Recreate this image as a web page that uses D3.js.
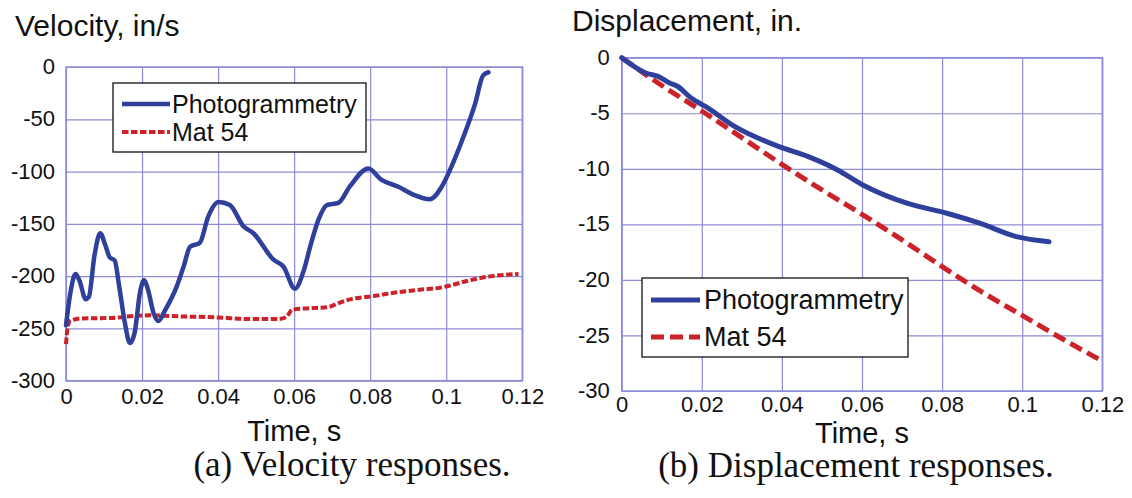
<!DOCTYPE html>
<html><head><meta charset="utf-8">
<script src="https://cdn.jsdelivr.net/npm/d3@7"></script>
<style>body{margin:0;background:#fff}svg{display:block}</style>
</head><body><svg id="c" width="1132" height="498"></svg>
<script>
// ---- data ----
const xTicks = [0, 0.02, 0.04, 0.06, 0.08, 0.1, 0.12];
const xTickLabels = ["0", "0.02", "0.04", "0.06", "0.08", "0.1", "0.12"];
const velTicks = [0, -50, -100, -150, -200, -250, -300];
const dispTicks = [0, -5, -10, -15, -20, -25, -30];
const seriesNames = ["Photogrammetry", "Mat 54"];

const velPhotoT = [0, 0.0012, 0.0025, 0.0035, 0.0052, 0.006, 0.0075, 0.009, 0.0103, 0.0115, 0.0128, 0.014, 0.0155, 0.0168, 0.018, 0.0195, 0.0205, 0.0215, 0.023, 0.0243, 0.026, 0.0291, 0.031, 0.0326, 0.0352, 0.0374, 0.0401, 0.0431, 0.0466, 0.0493, 0.0545, 0.0572, 0.0602, 0.0625, 0.0642, 0.0665, 0.0686, 0.0716, 0.0747, 0.0795, 0.083, 0.0874, 0.0913, 0.0957, 0.0988, 0.1014, 0.1045, 0.1076, 0.1097, 0.1111];
const velPhotoV = [-247, -215, -198, -204, -222, -220, -180, -159, -170, -182, -185, -210, -245, -264, -255, -215, -204, -212, -235, -243, -233, -210, -190, -172, -168, -143, -129, -132, -152, -159, -184, -191, -212, -195, -172, -145, -132, -130, -114, -97, -108, -114.5, -122, -126.5, -114.5, -95, -67, -35, -8, -5];

const velMatT = [0, 0.0004, 0.001, 0.004, 0.012, 0.018, 0.022, 0.03, 0.04, 0.048, 0.056, 0.058, 0.0595, 0.065, 0.069, 0.0715, 0.075, 0.081, 0.087, 0.093, 0.0985, 0.1005, 0.104, 0.108, 0.112, 0.119];
const velMatV = [-265, -250, -243, -240.5, -240, -238, -237.5, -238.5, -239.5, -241, -241, -239, -232, -230.5, -229.5, -226, -222, -219, -215.5, -213, -211, -209.5, -206, -202.5, -200, -198];

const dispPhotoT = [0, 0.0062, 0.0092, 0.0121, 0.0138, 0.0174, 0.021, 0.0283, 0.0393, 0.0466, 0.0539, 0.0602, 0.0712, 0.0812, 0.0894, 0.0985, 0.1067];
const dispPhotoD = [0, -1.4, -1.7, -2.3, -2.55, -3.65, -4.41, -6.21, -8.01, -8.91, -10.11, -11.46, -13.1, -14.0, -14.9, -16.1, -16.56];

const dispMatT = [0, 0.01, 0.02, 0.03, 0.04, 0.05, 0.06, 0.07, 0.08, 0.09, 0.1, 0.11, 0.12];
const dispMatD = [0, -2.5, -4.8, -7.2, -9.6, -11.9, -14.1, -16.4, -18.8, -21.1, -23.2, -25.3, -27.3];

// ---- drawing ----
const SANS = "'Liberation Sans', Arial, Helvetica, sans-serif";
const SERIF = "'Liberation Serif', 'Times New Roman', Times, serif";
const svg = d3.select("#c");
svg.append("rect").attr("width", 1132).attr("height", 498).attr("fill", "#fff");
const BLUE = "#2f3f9c", RED = "#cc2229", GRID = "#8c8cd6";

function panel(o) {
  const x = d3.scaleLinear().domain([0, 0.12]).range([o.x0, o.x1]);
  const y = d3.scaleLinear().domain([-30 * o.k, 0]).range([o.y1, o.y0]);
  const g = svg.append("g");
  const gx = g.append("g").attr("transform", `translate(0,${o.y1})`)
    .call(d3.axisBottom(x).tickValues(xTicks).tickSize(-(o.y1 - o.y0)).tickFormat((d, i) => xTickLabels[i]));
  gx.select(".domain").remove();
  gx.selectAll("line").attr("stroke", GRID).attr("stroke-width", 1.2);
  gx.selectAll("text").attr("font-size", o.tickFs).attr("font-family", SANS).attr("fill", "#111").attr("dy", null).attr("y", o.xLabY);
  const gy = g.append("g").attr("transform", `translate(${o.x0},0)`)
    .call(d3.axisLeft(y).tickValues(o.yTicks).tickSize(-(o.x1 - o.x0)).tickFormat(d => String(d)));
  gy.select(".domain").remove();
  gy.selectAll("line").attr("stroke", GRID).attr("stroke-width", 1.2);
  gy.selectAll("text").attr("font-size", o.tickFs).attr("font-family", SANS).attr("fill", "#111").attr("x", -o.yLabGap).attr("dy", "0.3em");
  g.append("rect").attr("x", o.x0).attr("y", o.y0).attr("width", o.x1 - o.x0).attr("height", o.y1 - o.y0)
    .attr("fill", "none").attr("stroke", GRID).attr("stroke-width", 1.5);
  const line = d3.line().x(d => x(d[0])).y(d => y(d[1])).curve(d3.curveMonotoneX);
  g.append("path").datum(o.matT.map((t, i) => [t, o.matV[i]])).attr("d", line)
    .attr("fill", "none").attr("stroke", RED).attr("stroke-width", o.redW).attr("stroke-dasharray", o.dash);
  g.append("path").datum(o.photoT.map((t, i) => [t, o.photoV[i]])).attr("d", line)
    .attr("fill", "none").attr("stroke", BLUE).attr("stroke-width", o.blueW).attr("stroke-linejoin", "round").attr("stroke-linecap", "round");
  svg.append("text").attr("x", o.titleX).attr("y", o.titleY).attr("font-family", SANS).attr("font-size", o.titleFs).attr("fill", "#111").text(o.title);
  svg.append("text").attr("x", (o.x0 + o.x1) / 2).attr("y", o.axisY).attr("text-anchor", "middle")
    .attr("font-family", SANS).attr("font-size", o.axisFs).attr("fill", "#111").text("Time, s");
  svg.append("text").attr("x", o.capX).attr("y", o.capY).attr("text-anchor", "middle")
    .attr("font-family", SERIF).attr("font-size", o.capFs).attr("fill", "#111").text(o.caption);
  const L = o.leg;
  svg.append("rect").attr("x", L.x).attr("y", L.y).attr("width", L.w).attr("height", L.h)
    .attr("fill", "#fff").attr("stroke", "#111").attr("stroke-width", 1.3);
  const rows = [{c: BLUE, w: o.blueW, dash: null}, {c: RED, w: o.redW, dash: o.dash}];
  rows.forEach((r, i) => {
    const yy = L.y + L.r0 + i * L.dr;
    svg.append("line").attr("x1", L.lx0).attr("x2", L.lx1).attr("y1", yy).attr("y2", yy)
      .attr("stroke", r.c).attr("stroke-width", r.w).attr("stroke-dasharray", r.dash);
    svg.append("text").attr("x", L.tx).attr("y", yy).attr("dy", "0.35em").attr("font-family", SANS).attr("font-size", L.fs).attr("fill", "#111").text(seriesNames[i]);
  });
}

panel({x0: 66, x1: 522.3, y0: 67, y1: 380.7, k: 10, yTicks: velTicks,
  tickFs: 22, xLabY: 23, yLabGap: 11, blueW: 4.5, redW: 4, dash: "6.5,2.5",
  photoT: velPhotoT, photoV: velPhotoV, matT: velMatT, matV: velMatV,
  title: "Velocity, in/s", titleX: 15, titleY: 36, titleFs: 30,
  axisY: 441, axisFs: 29, caption: "(a) Velocity responses.", capX: 352, capY: 476, capFs: 35,
  leg: {x: 113, y: 83, w: 253, h: 69, r0: 21, dr: 28, lx0: 122, lx1: 170, tx: 172, fs: 25}});

panel({x0: 621.7, x1: 1102.3, y0: 57.7, y1: 391, k: 1, yTicks: dispTicks,
  tickFs: 22, xLabY: 21, yLabGap: 12, blueW: 5, redW: 5, dash: "13,6",
  photoT: dispPhotoT, photoV: dispPhotoD, matT: dispMatT, matV: dispMatD,
  title: "Displacement, in.", titleX: 572, titleY: 31, titleFs: 30,
  axisY: 443, axisFs: 29, caption: "(b) Displacement responses.", capX: 856, capY: 477, capFs: 35,
  leg: {x: 642, y: 278, w: 266, h: 79, r0: 22, dr: 37, lx0: 651, lx1: 700, tx: 704, fs: 27}});
</script></body></html>
